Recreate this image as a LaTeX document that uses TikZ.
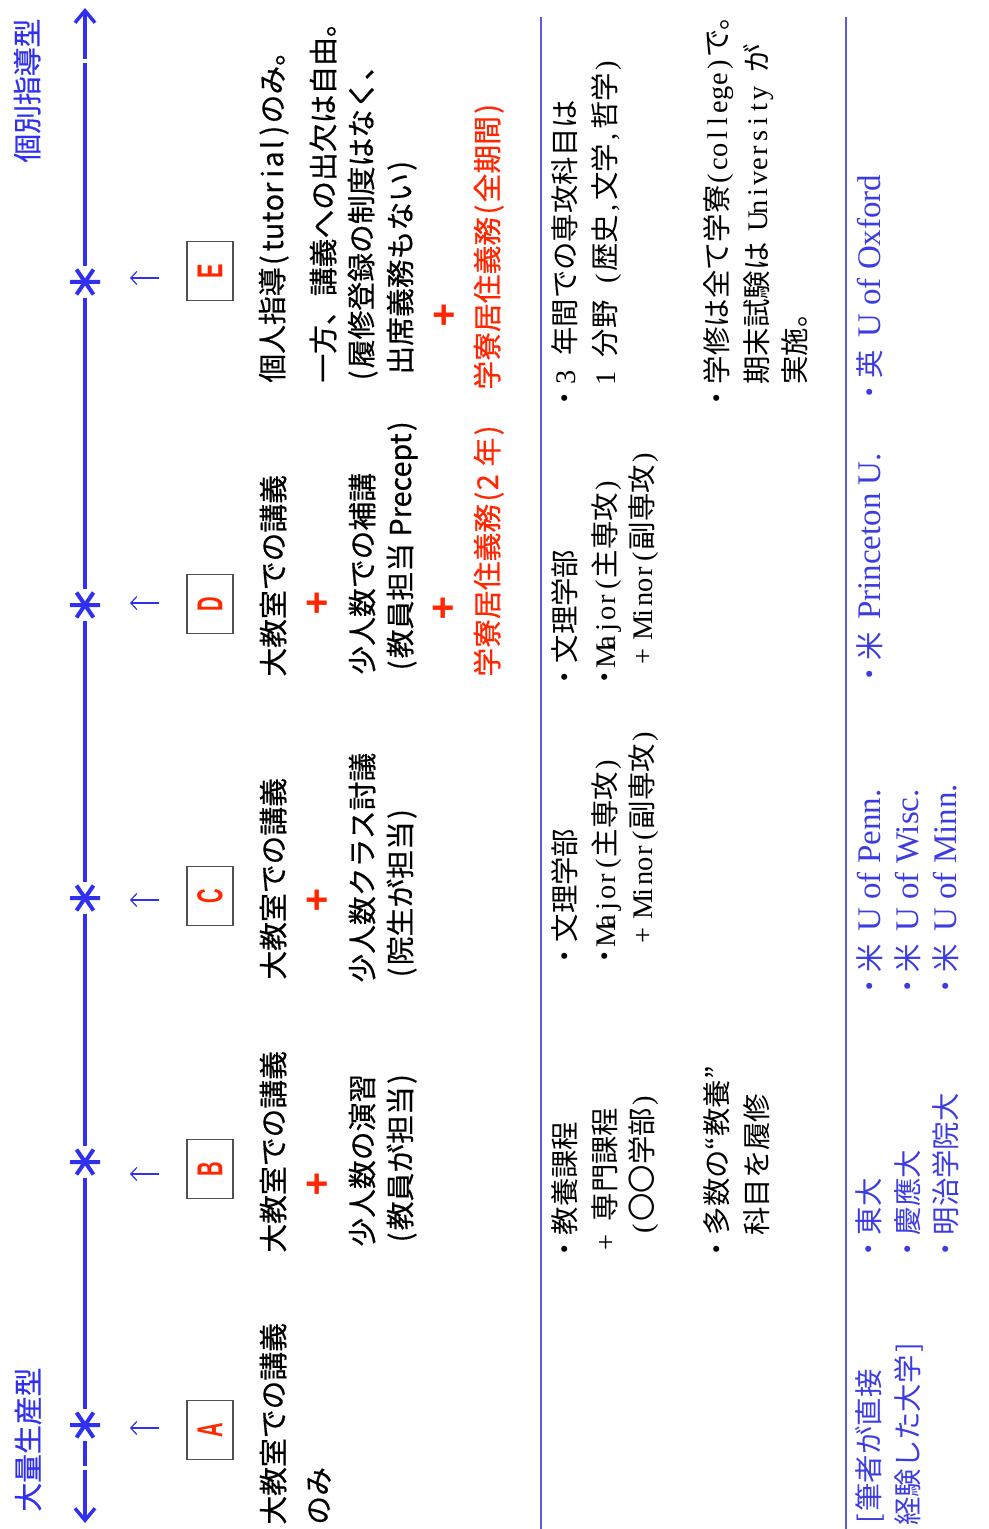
\documentclass[tikz,border=0pt]{standalone}
\usepackage{fontspec}
\usepackage{graphicx}
\usetikzlibrary{arrows.meta}
\newfontfamily\jpsans{Noto Sans CJK JP}[FakeBold=0.5]
\newfontfamily\jpserif{Noto Sans CJK JP}
\newfontfamily\latserif{Liberation Serif}
\newfontfamily\lsans{Liberation Sans}
\definecolor{axisblue}{RGB}{48,48,240}
\definecolor{lineblue}{RGB}{90,90,220}
\definecolor{univblue}{RGB}{60,60,225}
\definecolor{labred}{RGB}{255,38,0}
\definecolor{boxgray}{RGB}{80,80,80}
\makeatletter
\newcommand\hw[1]{\@tfor\hw@c:=#1\do{\makebox[0.5em]{\hw@c}}}
\newcommand\hws[1]{\@tfor\hw@c:=#1\do{\makebox[0.5em]{\latserif\hw@c}}}
\makeatother
\newcommand\hs{\hspace{0.5em}}
\newcommand\lat[1]{{\latserif\fontsize{16.5}{18}\selectfont #1}}
\begin{document}
\begin{tikzpicture}[x=0.5pt,y=-0.5pt,
  sanst/.style={rotate=90, anchor=base west, inner sep=0pt, font=\jpsans\fontsize{14.4}{17}\selectfont},
  redtx/.style={sanst, text=labred},
  seriftx/.style={rotate=90, anchor=base west, inner sep=0pt, font=\jpserif\fontsize{14.2}{17}\selectfont},
  univ/.style={seriftx, text=univblue},
  plussign/.style={inner sep=0pt, text=labred, font=\lsans\bfseries\fontsize{20}{20}\selectfont},
  letterbox/.style={rotate=90, draw=boxgray, line width=0.6pt, minimum width=29.5pt, minimum height=23pt, inner sep=0pt, text=labred, font=\lsans\bfseries\fontsize{18}{18}\selectfont},
  smallarrow/.style={axisblue, line width=0.6pt, -{Straight Barb[length=3pt,width=6.5pt]}, shorten <=13.5pt},
  axisline/.style={axisblue, line width=1.75pt},
  divider/.style={lineblue, line width=1pt},
  asterisk/.pic={
    \fill[white] (-4,-16) rectangle (4,16);
    \draw[axisblue, line width=2pt] (-15,0) -- (15,0) (-8.5,-12.5) -- (8.5,12.5) (-8.5,12.5) -- (8.5,-12.5);
  }]
\useasboundingbox (0,0) rectangle (989,1529);

% axis
\coordinate (axtop) at (85,8);
\coordinate (axbot) at (85,1523);
\draw[axisline, {Straight Barb[length=6pt,width=10pt]}-{Straight Barb[length=6pt,width=10pt]}] (axbot) -- (axtop);
\fill[white] (80,59) rectangle (90,63);
\fill[white] (80,1466) rectangle (90,1470);

% asterisks
\coordinate (sA) at (85,1425);
\coordinate (sB) at (85,1162);
\coordinate (sC) at (85,898);
\coordinate (sD) at (85,605);
\coordinate (sE) at (85,282);
\foreach \s in {sA,sB,sC,sD,sE} \pic at (\s) {asterisk};

% axis labels
\node[sanst, text=axisblue] (lMass) at (39,1512) {大量生産型};
\node[sanst, text=axisblue] (lInd) at (38,163) {個別指導型};

% letter boxes
\node[letterbox] (bA) at (210,1430) {\scalebox{0.56}[1]{A}};
\node[letterbox] (bB) at (210,1169) {\scalebox{0.56}[1]{B}};
\node[letterbox] (bC) at (210,896) {\scalebox{0.56}[1]{C}};
\node[letterbox] (bD) at (210,604) {\scalebox{0.56}[1]{D}};
\node[letterbox] (bE) at (210,271) {\scalebox{0.6}[1]{E}};

% small arrows
\coordinate (tipA) at (130,1428);
\coordinate (tipB) at (130,1174);
\coordinate (tipC) at (130,900);
\coordinate (tipD) at (130,603);
\coordinate (tipE) at (130,278);
\foreach \c in {A,B,C,D,E} \draw[smallarrow] (b\c.north |- tip\c) -- (tip\c);

% column A
\node[sanst] (tA1) at (284,1525) {大教室での講義};
\node[sanst] (tA2) at (329,1525) {のみ};

% column B
\node[sanst] (tB1) at (284,1253) {大教室での講義};
\node[plussign] (pB1) at (317,1186) {+};
\node[sanst] (tB2) at (373,1247) {少人数の演習};
\node[sanst] (tB3) at (411,1245) {\hw{(}教員が担当\hw{)}};

% column C
\node[sanst] (tC1) at (284,980) {大教室での講義};
\node[plussign] (pC1) at (317,902) {+};
\node[sanst] (tC2) at (373,983) {少人数クラス討議};
\node[sanst] (tC3) at (411,980) {\hw{(}院生が担当\hw{)}};

% column D
\node[sanst] (tD1) at (284,677) {大教室での講義};
\node[plussign] (pD1) at (317,605) {+};
\node[sanst] (tD2) at (373,675) {少人数での補講};
\node[sanst] (tD3) at (411,673) {\hw{(}教員担当 Precept\hw{)}};
\node[plussign] (pD2) at (443,610) {+};
\node[redtx] (tD4) at (498,677) {学寮居住義務\hw{(2}\hspace{0.3em}年\hw{)}};

% column E
\node[sanst] (tE1) at (283,383) {個人指導\hw{(tutorial)}のみ。};
\node[sanst] (tE2) at (334,383) {一方、講義への出欠は自由。};
\node[sanst] (tE3) at (372,383) {\hw{(}履修登録の制度はなく、};
\node[sanst] (tE4) at (411,375) {出席義務もない\hw{)}};
\node[plussign] (pE1) at (444,317) {+};
\node[redtx] (tE5) at (498,390) {学寮居住義務\hw{(}全期間\hw{)}};

% dividers
\draw[divider] (541,17) -- (541,1529);
\draw[divider] (846,17) -- (846,1529);

% curriculum section
\node[seriftx] (rB1) at (575,1264) {・教養課程};
\node[seriftx] (rB2) at (615,1250) {\hws{+}\hs 専門課程};
\node[seriftx] (rB3) at (652,1236) {\hws{(}〇〇学部\hws{)}};
\node[seriftx] (rB4) at (727,1264) {・多数の“教養”};
\node[seriftx] (rB5) at (767,1236) {科目を履修};

\node[seriftx] (rC1) at (575,971) {・文理学部};
\node[seriftx] (rC2) at (615,971) {・\hws{Major(}主専攻\hws{)}};
\node[seriftx] (rC3) at (652,943) {\hws{+}\hs\hws{Minor(}副専攻\hws{)}};

\node[seriftx] (rD1) at (575,692) {・文理学部};
\node[seriftx] (rD2) at (615,692) {・\hws{Major(}主専攻\hws{)}};
\node[seriftx] (rD3) at (652,664) {\hws{+}\hs\hws{Minor(}副専攻\hws{)}};

\node[seriftx] (rE1) at (575,413) {・\hws{3}\hs 年間での専攻科目は};
\node[seriftx] (rE2) at (615,386) {\hws{1}\hs 分野\hs\hws{(}歴史\hws{,}文学\hws{,}哲学\hws{)}};
\node[seriftx] (rE3) at (727,413) {・学修は全て学寮\hws{(college)}で。};
\node[seriftx] (rE4) at (767,385) {期末試験は\hs\hws{University}\hs が};
\node[seriftx] (rE5) at (805,385) {実施。};

% universities
\node[univ] (uH1) at (879,1526) {\hw{[}筆者が直接};
\node[univ] (uH2) at (918,1526) {経験した大学\hw{]}};
\node[univ] (uJ1) at (879,1264) {・東大};
\node[univ] (uJ2) at (918,1264) {・慶應大};
\node[univ] (uJ3) at (956,1264) {・明治学院大};
\node[univ] (uU1) at (880,1001) {・米\hspace{6pt}\lat{U of Penn.}};
\node[univ] (uU2) at (918,1001) {・米\hspace{6pt}\lat{U of Wisc.}};
\node[univ] (uU3) at (956,1001) {・米\hspace{6pt}\lat{U of Minn.}};
\node[univ] (uP) at (880,689) {・米\hspace{6pt}\lat{Princeton U.}};
\node[univ] (uO) at (880,407) {・英\hspace{6pt}\lat{U of Oxford}};
\end{tikzpicture}
\end{document}
